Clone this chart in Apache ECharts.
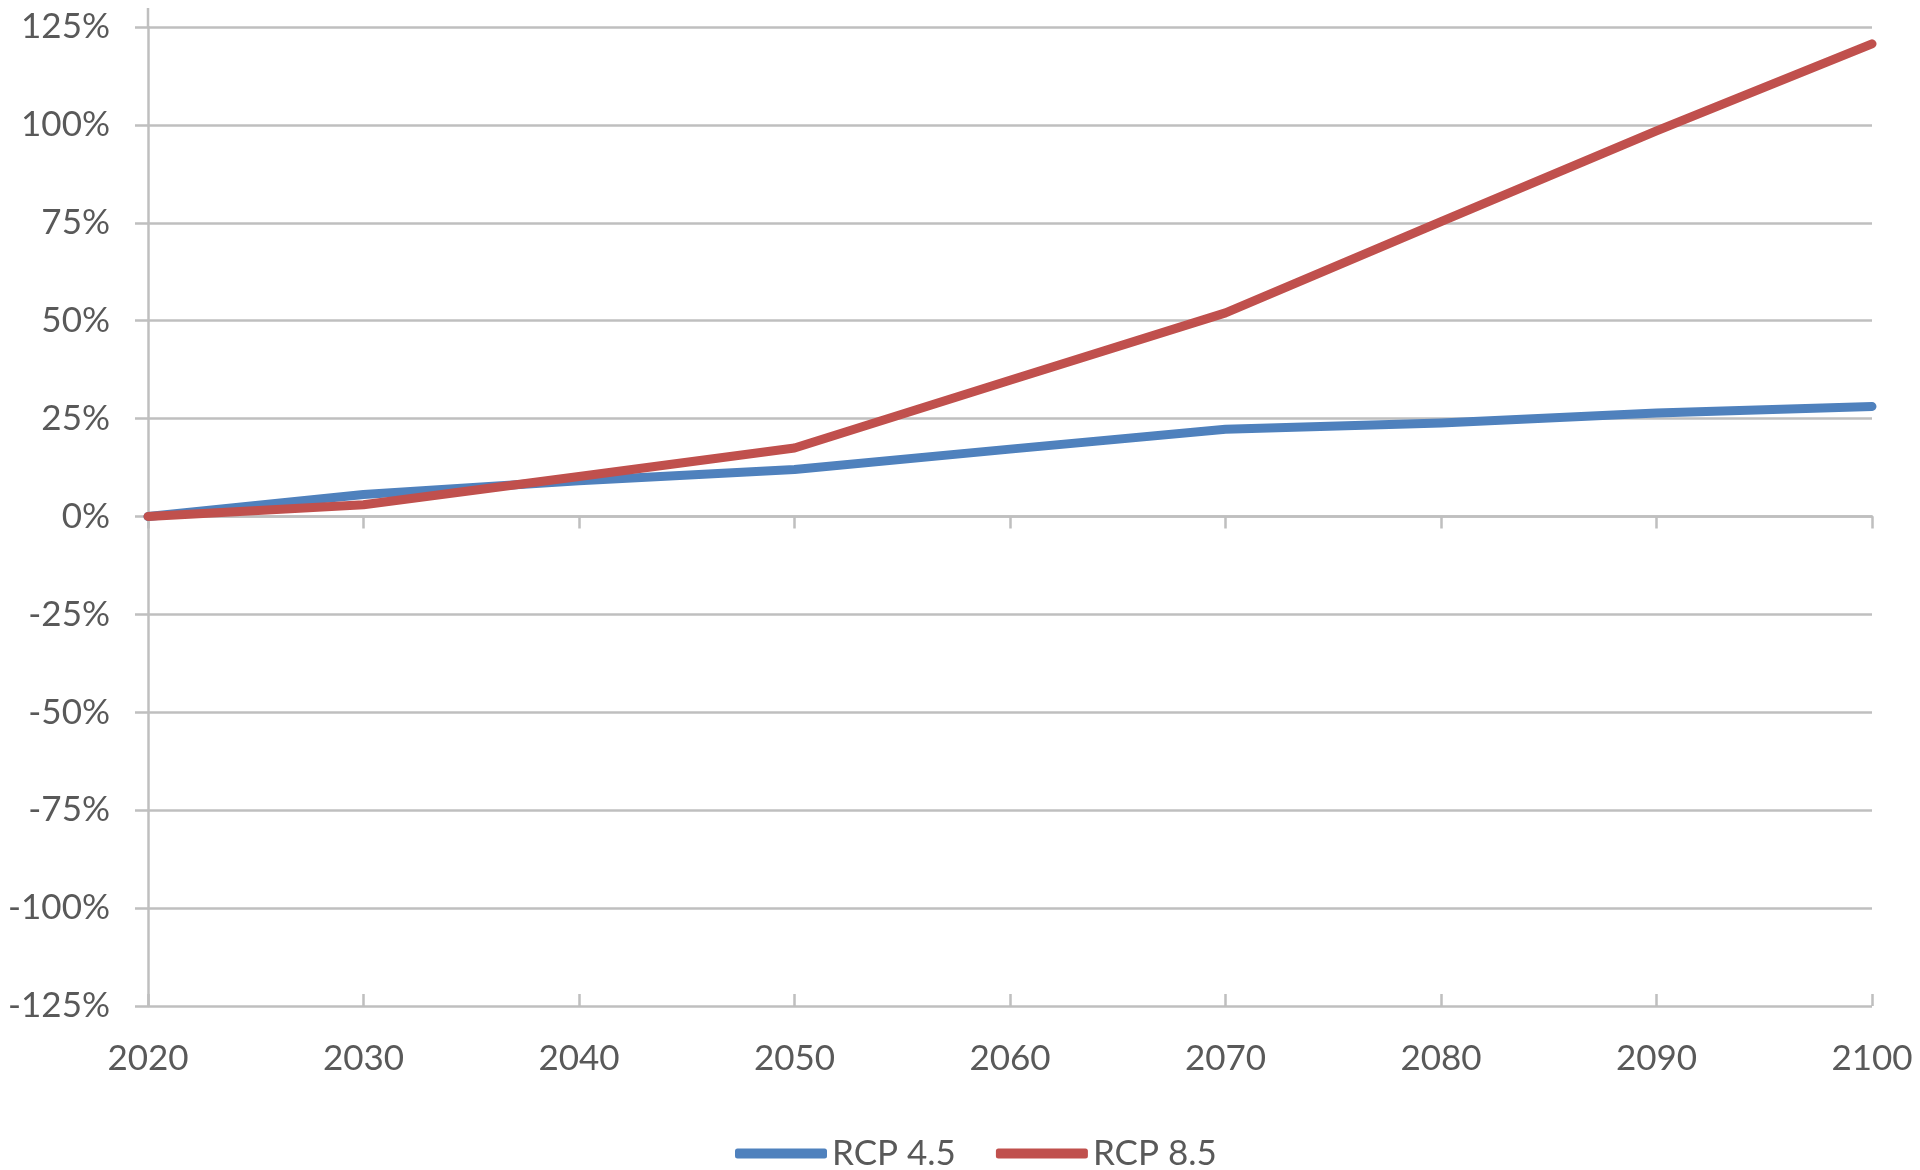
<!DOCTYPE html>
<html>
<head>
<meta charset="utf-8">
<script src="https://cdn.jsdelivr.net/npm/echarts@6/dist/echarts.min.js"></script>
<style>
html,body{margin:0;padding:0;background:#fff;}
#chart{width:1920px;height:1170px;}
</style>
</head>
<body>
<div id="chart"></div>
<script>
const years = ['2020','2030','2040','2050','2060','2070','2080','2090','2100'];
const rcp45 = [0, 5.6, 9.1, 12.0, 17.2, 22.3, 23.9, 26.4, 28.1];
const rcp85 = [0, 3.0, 10.2, 17.5, 34.8, 52.0, 75.3, 98.5, 120.7];
const seriesNames = ['RCP 4.5', 'RCP 8.5'];
const yMin = -125, yMax = 125, yStep = 25;

const FONT = 'Lato';
const TXT = '#595959';
const GRID = '#BFBFBF';
const GW = 2.5;

const chart = echarts.init(document.getElementById('chart'), null, {renderer: 'canvas'});
chart.setOption({
  animation: false,
  backgroundColor: '#fff',
  grid: {left: 148, right: 48, top: 27, bottom: 164, containLabel: false},
  legend: {
    data: seriesNames,
    top: 1131,
    left: 730,
    icon: 'roundRect',
    itemWidth: 92,
    itemHeight: 10,
    itemGap: 40,
    textStyle: {fontFamily: FONT, fontSize: 35, color: TXT}
  },
  xAxis: [
    {
      type: 'category', data: years, boundaryGap: false, position: 'bottom',
      axisLine: {show: false, onZero: false},
      axisTick: {show: false},
      splitLine: {show: false},
      axisLabel: {fontFamily: FONT, fontSize: 35, color: TXT, margin: 35}
    },
    {
      type: 'category', data: years, boundaryGap: false, position: 'bottom',
      axisLine: {show: true, onZero: true, lineStyle: {color: GRID, width: GW}},
      axisTick: {show: true, length: 12, inside: false, lineStyle: {color: GRID, width: GW}},
      axisLabel: {show: false},
      splitLine: {show: false}
    },
    {
      type: 'category', data: years, boundaryGap: false, position: 'bottom',
      axisLine: {show: false, onZero: true},
      axisTick: {show: true, length: 12, inside: true, lineStyle: {color: GRID, width: GW}},
      axisLabel: {show: false},
      splitLine: {show: false}
    }
  ],
  yAxis: {
    type: 'value', min: yMin, max: yMax, interval: yStep,
    axisLine: {show: true, lineStyle: {color: GRID, width: GW}},
    axisTick: {show: true, length: 13, lineStyle: {color: GRID, width: GW}},
    splitLine: {show: true, lineStyle: {color: GRID, width: GW}},
    axisLabel: {fontFamily: FONT, fontSize: 35, color: TXT, margin: 38, formatter: '{value}%'}
  },
  series: [
    {
      name: seriesNames[0], type: 'line', data: rcp45, xAxisIndex: 0,
      symbol: 'none', smooth: false, color: '#4F81BD',
      lineStyle: {width: 9, color: '#4F81BD', cap: 'round', join: 'round'}
    },
    {
      name: seriesNames[1], type: 'line', data: rcp85, xAxisIndex: 0,
      symbol: 'none', smooth: false, color: '#C0504D',
      lineStyle: {width: 9, color: '#C0504D', cap: 'round', join: 'round'}
    }
  ]
});

// Extend the vertical axis line a little above the top gridline, as in the reference
const topPt = chart.convertToPixel({yAxisIndex: 0}, yMax);
const leftPx = chart.convertToPixel({xAxisIndex: 0}, 0);
chart.setOption({
  graphic: [{
    type: 'line', silent: true,
    shape: {x1: leftPx, y1: topPt - 19, x2: leftPx, y2: topPt},
    style: {stroke: GRID, lineWidth: GW}
  }]
});
</script>
</body>
</html>
